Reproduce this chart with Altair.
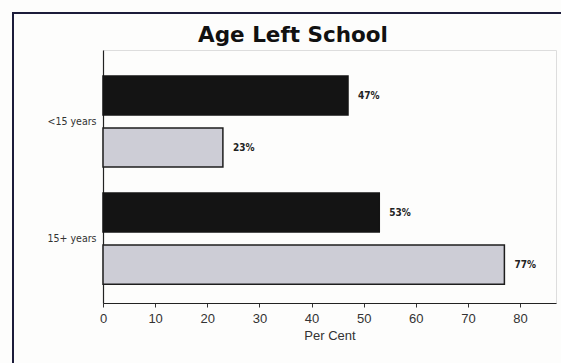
import altair as alt
import pandas as pd

# Age at which respondents left school, two survey groups
categories = ["<15 years", "15+ years"]
series = ["Group A", "Group B"]
group_a = [47, 53]
group_b = [23, 77]
chart_title = "Age Left School"

rows = []
for i, cat in enumerate(categories):
    rows.append({"age": cat, "group": series[0], "value": group_a[i]})
    rows.append({"age": cat, "group": series[1], "value": group_b[i]})
df = pd.DataFrame(rows)

W, H = 453, 253
NARROW = "'DejaVu Sans Condensed', 'Liberation Sans Narrow', 'Liberation Sans', sans-serif"

y_enc = alt.Y(
    "age:N",
    sort=categories,
    scale=alt.Scale(paddingInner=0.222, paddingOuter=0.192, align=0.58),
    axis=alt.Axis(
        title=None,
        ticks=False,
        labelFont=NARROW,
        labelFontSize=10.5,
        labelColor="#333333",
        labelPadding=7,
        domainColor="#222222",
        domainWidth=1.2,
    ),
)
yoff_enc = alt.YOffset(
    "group:N",
    sort=series,
    scale=alt.Scale(paddingInner=0.25, paddingOuter=0),
)

base = alt.Chart(df).encode(y=y_enc, yOffset=yoff_enc)

bars = base.mark_bar(strokeWidth=1.5).encode(
    x=alt.X(
        "value:Q",
        scale=alt.Scale(domain=[0, 86.9], nice=False),
        axis=alt.Axis(
            title="Per Cent",
            values=[0, 10, 20, 30, 40, 50, 60, 70, 80],
            format="d",
            grid=False,
            labelFlush=False,
            tickSize=4,
            tickColor="#333333",
            domainColor="#222222",
            domainWidth=1.2,
            labelFont="Liberation Sans",
            labelFontSize=13,
            labelColor="#333333",
            labelPadding=5,
            titleFont="Liberation Sans",
            titleFontSize=13,
            titleFontWeight="normal",
            titleColor="#333333",
            titlePadding=4,
        ),
    ),
    color=alt.Color(
        "group:N",
        sort=series,
        scale=alt.Scale(domain=series, range=["#141414", "#cdcdd6"]),
        legend=None,
    ),
    stroke=alt.Stroke(
        "group:N",
        sort=series,
        scale=alt.Scale(domain=series, range=["#141414", "#1e1e1e"]),
        legend=None,
    ),
)

labels = base.transform_calculate(
    label="datum.value + '%'"
).mark_text(
    align="left",
    baseline="middle",
    dx=10,
    font=NARROW,
    fontSize=10,
    fontWeight="bold",
    color="#222222",
).encode(x="value:Q", text="label:N")

one_row = pd.DataFrame({"k": [0]})

# outer border of the figure panel
frame = alt.Chart(one_row).mark_rect(
    fill=None, stroke="#1c1c3a", strokeWidth=2
).encode(
    x=alt.value(-90),
    x2=alt.value(W + 40),
    y=alt.value(-37),
    y2=alt.value(H + 90),
)

# heading, centred over the panel
heading = alt.Chart(one_row).mark_text(
    font="DejaVu Sans",
    fontSize=21.5,
    fontWeight="bold",
    color="#111111",
    align="center",
    baseline="alphabetic",
).encode(
    x=alt.value(190),
    y=alt.value(-8),
    text=alt.value(chart_title),
)

chart = alt.layer(frame, heading, bars, labels).properties(
    width=W,
    height=H,
    autosize=alt.AutoSizeParams(type="none"),
    padding={"left": 103, "top": 50, "right": 5, "bottom": 60},
).configure_view(stroke=None).configure(background="#fdfdfc")

chart.save("out.html", embed_options={"renderer": "svg", "actions": False})
